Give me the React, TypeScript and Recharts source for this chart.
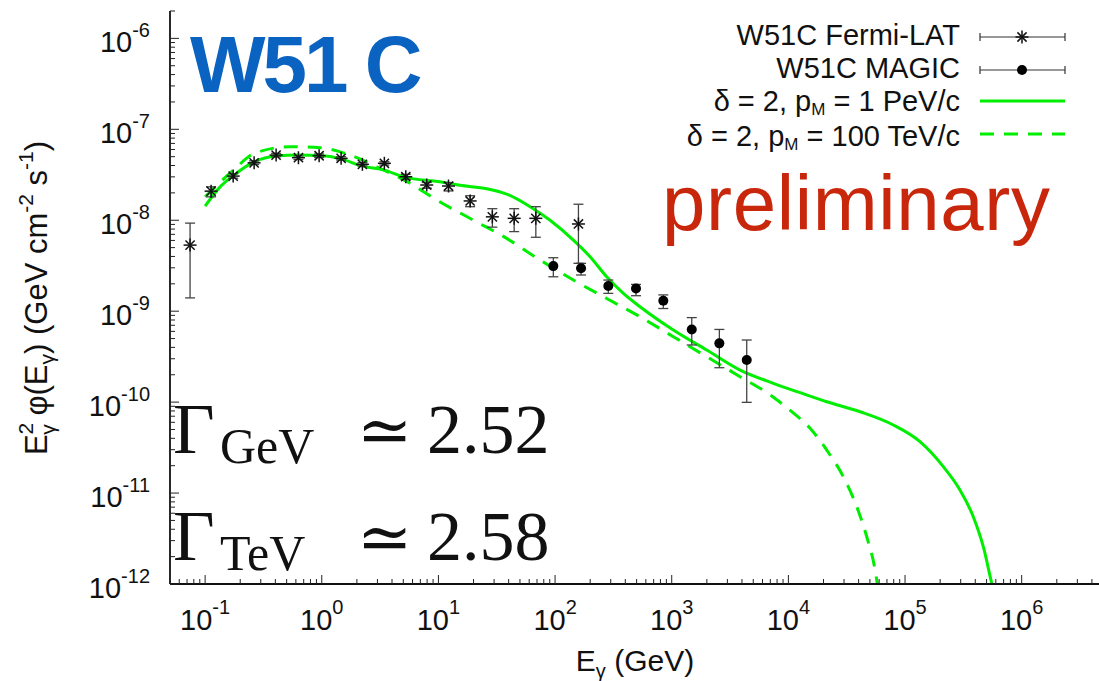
import React from 'react';
import { ComposedChart, XAxis, YAxis, Line, Scatter, ErrorBar } from 'recharts';

// ---------- data ----------
const fermiE = [0.0743, 0.1125, 0.174, 0.263, 0.406, 0.631, 0.949, 1.465, 2.23, 3.44, 5.25, 7.94, 12.2, 18.7, 29.0, 44.6, 68.4, 158.6];
const fermiFlux = [5.33e-9, 2.09e-8, 3.06e-8, 4.28e-8, 5.21e-8, 4.87e-8, 5.12e-8, 4.8e-8, 4.12e-8, 4.23e-8, 3.01e-8, 2.44e-8, 2.38e-8, 1.63e-8, 1.09e-8, 1.05e-8, 1.05e-8, 9.1e-9];
const fermiLo = [1.4e-9, 1.81e-8, 2.9e-8, 4.1e-8, 5.0e-8, 4.65e-8, 4.9e-8, 4.6e-8, 3.95e-8, 4.05e-8, 2.8e-8, 2.25e-8, 2.1e-8, 1.41e-8, 8.4e-9, 7.5e-9, 6.5e-9, 3.36e-9];
const fermiHi = [9.3e-9, 2.33e-8, 3.25e-8, 4.5e-8, 5.45e-8, 5.1e-8, 5.35e-8, 5.0e-8, 4.3e-8, 4.4e-8, 3.2e-8, 2.6e-8, 2.6e-8, 1.86e-8, 1.34e-8, 1.34e-8, 1.41e-8, 1.5e-8];

const magicE = [96.6, 167, 286, 494, 847, 1485, 2560, 4395];
const magicFlux = [3.13e-9, 2.96e-9, 1.89e-9, 1.78e-9, 1.3e-9, 6.3e-10, 4.43e-10, 2.9e-10];
const magicLo = [2.39e-9, 2.5e-9, 1.57e-9, 1.48e-9, 1.07e-9, 4.25e-10, 2.39e-10, 9.95e-11];
const magicHi = [3.87e-9, 3.36e-9, 2.2e-9, 1.97e-9, 1.51e-9, 8.5e-10, 6.3e-10, 4.82e-10];

// delta = 2, pM = 1 PeV/c
const pev1E = [0.1, 0.1345, 0.175, 0.265, 0.406, 0.631, 0.968, 1.465, 2.22, 3.44, 5.18, 10.3, 15.3, 26, 40, 61.1, 90.6, 143.5, 199.5, 277, 385, 535, 1032, 1995, 3855, 7430, 12590, 21320, 41100, 79400, 134300, 212800, 295800, 384600, 468800, 553400, 580000];
const pev1Flux = [1.43e-8, 2.33e-8, 3.1e-8, 4.4e-8, 5.08e-8, 5.21e-8, 5.14e-8, 4.73e-8, 3.94e-8, 3.56e-8, 2.96e-8, 2.65e-8, 2.42e-8, 2.22e-8, 1.9e-8, 1.41e-8, 1.0e-8, 6.05e-9, 3.97e-9, 2.39e-9, 1.57e-9, 1.12e-9, 6.21e-10, 3.74e-10, 2.25e-10, 1.61e-10, 1.27e-10, 1.01e-10, 7.84e-11, 5.6e-11, 3.67e-11, 1.95e-11, 1.08e-11, 5.5e-12, 2.57e-12, 1.02e-12, 8e-13];

// delta = 2, pM = 100 TeV/c
const tev100E = [0.1, 0.175, 0.265, 0.536, 0.968, 1.75, 3.16, 5.71, 9.68, 20, 38.5, 74.4, 143.5, 277, 535, 1032, 1995, 3855, 7200, 10000, 15350, 21320, 29600, 38550, 46970, 55340, 58900];
const tev100Flux = [1.81e-8, 3.56e-8, 5.44e-8, 6.43e-8, 6.27e-8, 5.21e-8, 3.72e-8, 2.55e-8, 1.67e-8, 1.0e-8, 6.32e-9, 3.65e-9, 2.2e-9, 1.38e-9, 8.69e-10, 5.24e-10, 3.16e-10, 1.9e-10, 1.17e-10, 8.4e-11, 5.15e-11, 2.97e-11, 1.51e-11, 7.08e-12, 3.31e-12, 1.43e-12, 8.6e-13];

const xMajorTicks = [0.1, 1, 10, 100, 1000, 10000, 100000, 1000000];
const yMajorTicks = [1e-12, 1e-11, 1e-10, 1e-9, 1e-8, 1e-7, 1e-6];
const minorMultipliers = [2, 3, 4, 5, 6, 7, 8, 9];
const xDomain = [0.05, 4.6e6];
const yDomain = [1e-12, 2e-6];

const legendLabels = ['W51C Fermi-LAT', 'W51C MAGIC'];

// ---------- derived ----------
const withMinors = (majors: number[], dom: number[]) => {
  const out: number[] = [];
  majors.concat([majors[0] / 10]).forEach((m) => {
    out.push(m);
    minorMultipliers.forEach((k) => out.push(m * k));
  });
  return out.filter((v) => v >= dom[0] * 0.999 && v <= dom[1] * 1.001).sort((a, b) => a - b);
};
const xTicks = withMinors(xMajorTicks, xDomain);
const yTicks = withMinors(yMajorTicks, yDomain);

const fermiData = fermiE.map((x, i) => ({ x, y: fermiFlux[i], err: [fermiFlux[i] - fermiLo[i], fermiHi[i] - fermiFlux[i]] }));
const magicData = magicE.map((x, i) => ({ x, y: magicFlux[i], err: [magicFlux[i] - magicLo[i], magicHi[i] - magicFlux[i]] }));
const pev1Data = pev1E.map((x, i) => ({ x, y: pev1Flux[i] }));
const tev100Data = tev100E.map((x, i) => ({ x, y: tev100Flux[i] }));

const FONT = '"Liberation Sans", Arial, Helvetica, sans-serif';
const GREEN = '#00ee00';

const isMajor = (v: number) => Math.abs(Math.log10(v) - Math.round(Math.log10(v))) < 1e-6;
const expOf = (v: number) => Math.round(Math.log10(v));

const BottomTick = (p: any) => {
  const { x, y, payload } = p;
  const v = payload.value;
  const maj = isMajor(v);
  return (
    <g>
      <line x1={x} x2={x} y1={y} y2={y - (maj ? 9 : 5)} stroke="#222" strokeWidth={1} />
      {maj && (
        <text x={x} y={y + 46} textAnchor="middle" fontSize={29} fill="#111" fontFamily={FONT}>
          10<tspan dy={-16} fontSize={20}>{String(expOf(v))}</tspan>
        </text>
      )}
    </g>
  );
};
const TopTick = (p: any) => {
  const { x, y, payload } = p;
  const maj = isMajor(payload.value);
  return <line x1={x} x2={x} y1={y} y2={y + (maj ? 9 : 5)} stroke="#222" strokeWidth={1} />;
};
const LeftTick = (p: any) => {
  const { x, y, payload } = p;
  const v = payload.value;
  const maj = isMajor(v);
  return (
    <g>
      <line x1={x} x2={x + (maj ? 9 : 5)} y1={y} y2={y} stroke="#222" strokeWidth={1} />
      {maj && (
        <text x={x - 20} y={y + 14} textAnchor="end" fontSize={29} fill="#111" fontFamily={FONT}>
          10<tspan dy={-15} fontSize={20}>{String(expOf(v))}</tspan>
        </text>
      )}
    </g>
  );
};
const RightTick = (p: any) => {
  const { x, y, payload } = p;
  const maj = isMajor(payload.value);
  return <line x1={x} x2={x - (maj ? 9 : 5)} y1={y} y2={y} stroke="#222" strokeWidth={1} />;
};

const Asterisk = (p: any) => {
  const { cx, cy } = p;
  if (cx == null || cy == null) return <g />;
  const r = 6.5;
  const d = r * 0.7071;
  return (
    <g stroke="#111" strokeWidth={1.5}>
      <line x1={cx - r} y1={cy} x2={cx + r} y2={cy} />
      <line x1={cx} y1={cy - r} x2={cx} y2={cy + r} />
      <line x1={cx - d} y1={cy - d} x2={cx + d} y2={cy + d} />
      <line x1={cx - d} y1={cy + d} x2={cx + d} y2={cy - d} />
    </g>
  );
};
const Dot = (p: any) => {
  const { cx, cy } = p;
  if (cx == null || cy == null) return <g />;
  return <circle cx={cx} cy={cy} r={5} fill="#000" />;
};

const axisLine = { stroke: '#111', strokeWidth: 1.8 };

const Overlay = () => (
  <svg width={1099} height={681} style={{ position: 'absolute', left: 0, top: 0, pointerEvents: 'none' }}>
    {/* title */}
    <text x={190} y={92} fontSize={80} fontWeight="bold" fill="#0b63c1" fontFamily={FONT} letterSpacing={-3}>W51 C</text>
    {/* preliminary */}
    <text x={662} y={230} fontSize={78} fill="#c9270c" fontFamily={FONT} textLength={388}>preliminary</text>

    {/* Gamma annotations */}
    <g fontFamily='"Liberation Serif", "DejaVu Serif", serif' fill="#111">
      <text x={173} y={453} fontSize={72}>Γ</text>
      <text x={220} y={463} fontSize={50}>GeV</text>
      <text x={357} y={453} fontSize={66}>≃</text>
      <text x={427} y={453} fontSize={70}>2.52</text>
      <text x={173} y={560} fontSize={72}>Γ</text>
      <text x={220} y={570} fontSize={50}>TeV</text>
      <text x={357} y={560} fontSize={66}>≃</text>
      <text x={427} y={560} fontSize={70}>2.58</text>
    </g>

    {/* legend */}
    <g fontFamily={FONT} fill="#111" fontSize={29} textAnchor="end">
      <text x={960} y={45}>{legendLabels[0]}</text>
      <text x={960} y={78}>{legendLabels[1]}</text>
      <text x={960} y={111}>δ = 2, p<tspan dy={4} fontSize={17}>M</tspan><tspan dy={-4}> = 1 PeV/c</tspan></text>
      <text x={960} y={146}>δ = 2, p<tspan dy={4} fontSize={17}>M</tspan><tspan dy={-4}> = 100 TeV/c</tspan></text>
    </g>
    <g stroke="#333" strokeWidth={1.2}>
      <line x1={980} x2={1065} y1={37} y2={37} />
      <line x1={980} x2={980} y1={33} y2={41} />
      <line x1={1065} x2={1065} y1={33} y2={41} />
      <line x1={980} x2={1065} y1={70} y2={70} />
      <line x1={980} x2={980} y1={66} y2={74} />
      <line x1={1065} x2={1065} y1={66} y2={74} />
    </g>
    <Asterisk cx={1022} cy={37} />
    <Dot cx={1022} cy={70} />
    <line x1={980} x2={1065} y1={101} y2={101} stroke={GREEN} strokeWidth={3} />
    <line x1={980} x2={1065} y1={134} y2={134} stroke={GREEN} strokeWidth={3} strokeDasharray="14 10" />

    {/* axis titles */}
    <text x={635} y={671} textAnchor="middle" fontSize={30} fill="#111" fontFamily={FONT}>
      E<tspan dy={7} fontSize={20}>γ</tspan><tspan dy={-7}> (GeV)</tspan>
    </text>
    <text transform="translate(47,298) rotate(-90)" textAnchor="middle" fontSize={31} fill="#111" fontFamily={FONT}>
      E<tspan dy={-14} fontSize={21}>2</tspan><tspan dx={-12} dy={22} fontSize={21}>γ</tspan>
      <tspan dy={-8}> φ(E</tspan><tspan dy={7} fontSize={21}>γ</tspan><tspan dy={-7}>) (GeV cm</tspan>
      <tspan dy={-14} fontSize={21}>-2</tspan><tspan dy={14}> s</tspan><tspan dy={-14} fontSize={21}>-1</tspan>
      <tspan dy={14}>)</tspan>
    </text>
  </svg>
);

export default function App() {
  return (
    <div style={{ position: 'absolute', left: 0, top: 0, width: 1099, height: 681, background: '#fff' }}>
      <ComposedChart width={1099} height={681} margin={{ top: 11, right: 0, bottom: 0, left: 0 }}>
        <XAxis
          xAxisId="b"
          dataKey="x"
          type="number"
          scale="log"
          domain={xDomain}
          allowDataOverflow
          ticks={xTicks}
          interval={0}
          height={97}
          tickSize={0}
          tickMargin={0}
          tickLine={false}
          axisLine={axisLine}
          tick={<BottomTick />}
        />
        <XAxis
          xAxisId="t"
          orientation="top"
          dataKey="x"
          type="number"
          scale="log"
          domain={xDomain}
          allowDataOverflow
          ticks={xTicks}
          interval={0}
          height={0}
          tickSize={0}
          tickMargin={0}
          tickLine={false}
          axisLine={axisLine}
          tick={<TopTick />}
        />
        <YAxis
          yAxisId="l"
          dataKey="y"
          type="number"
          scale="log"
          domain={yDomain}
          allowDataOverflow
          ticks={yTicks}
          interval={0}
          width={170}
          tickSize={0}
          tickMargin={0}
          tickLine={false}
          axisLine={axisLine}
          tick={<LeftTick />}
        />
        <YAxis
          yAxisId="r"
          orientation="right"
          dataKey="y"
          type="number"
          scale="log"
          domain={yDomain}
          allowDataOverflow
          ticks={yTicks}
          interval={0}
          width={0}
          tickSize={0}
          tickMargin={0}
          tickLine={false}
          axisLine={axisLine}
          tick={<RightTick />}
        />
        <Line xAxisId="b" yAxisId="l" data={tev100Data} dataKey="y" type="monotone" stroke={GREEN} strokeWidth={3} strokeDasharray="14 10" dot={false} activeDot={false} isAnimationActive={false} />
        <Line xAxisId="b" yAxisId="l" data={pev1Data} dataKey="y" type="monotone" stroke={GREEN} strokeWidth={3} dot={false} activeDot={false} isAnimationActive={false} />
        <Scatter xAxisId="b" yAxisId="l" data={fermiData} dataKey="y" shape={<Asterisk />} isAnimationActive={false}>
          <ErrorBar dataKey="err" direction="y" width={5} stroke="#444" strokeWidth={1.3} isAnimationActive={false} />
        </Scatter>
        <Scatter xAxisId="b" yAxisId="l" data={magicData} dataKey="y" shape={<Dot />} isAnimationActive={false}>
          <ErrorBar dataKey="err" direction="y" width={5} stroke="#444" strokeWidth={1.3} isAnimationActive={false} />
        </Scatter>
      </ComposedChart>
      <Overlay />
    </div>
  );
}
